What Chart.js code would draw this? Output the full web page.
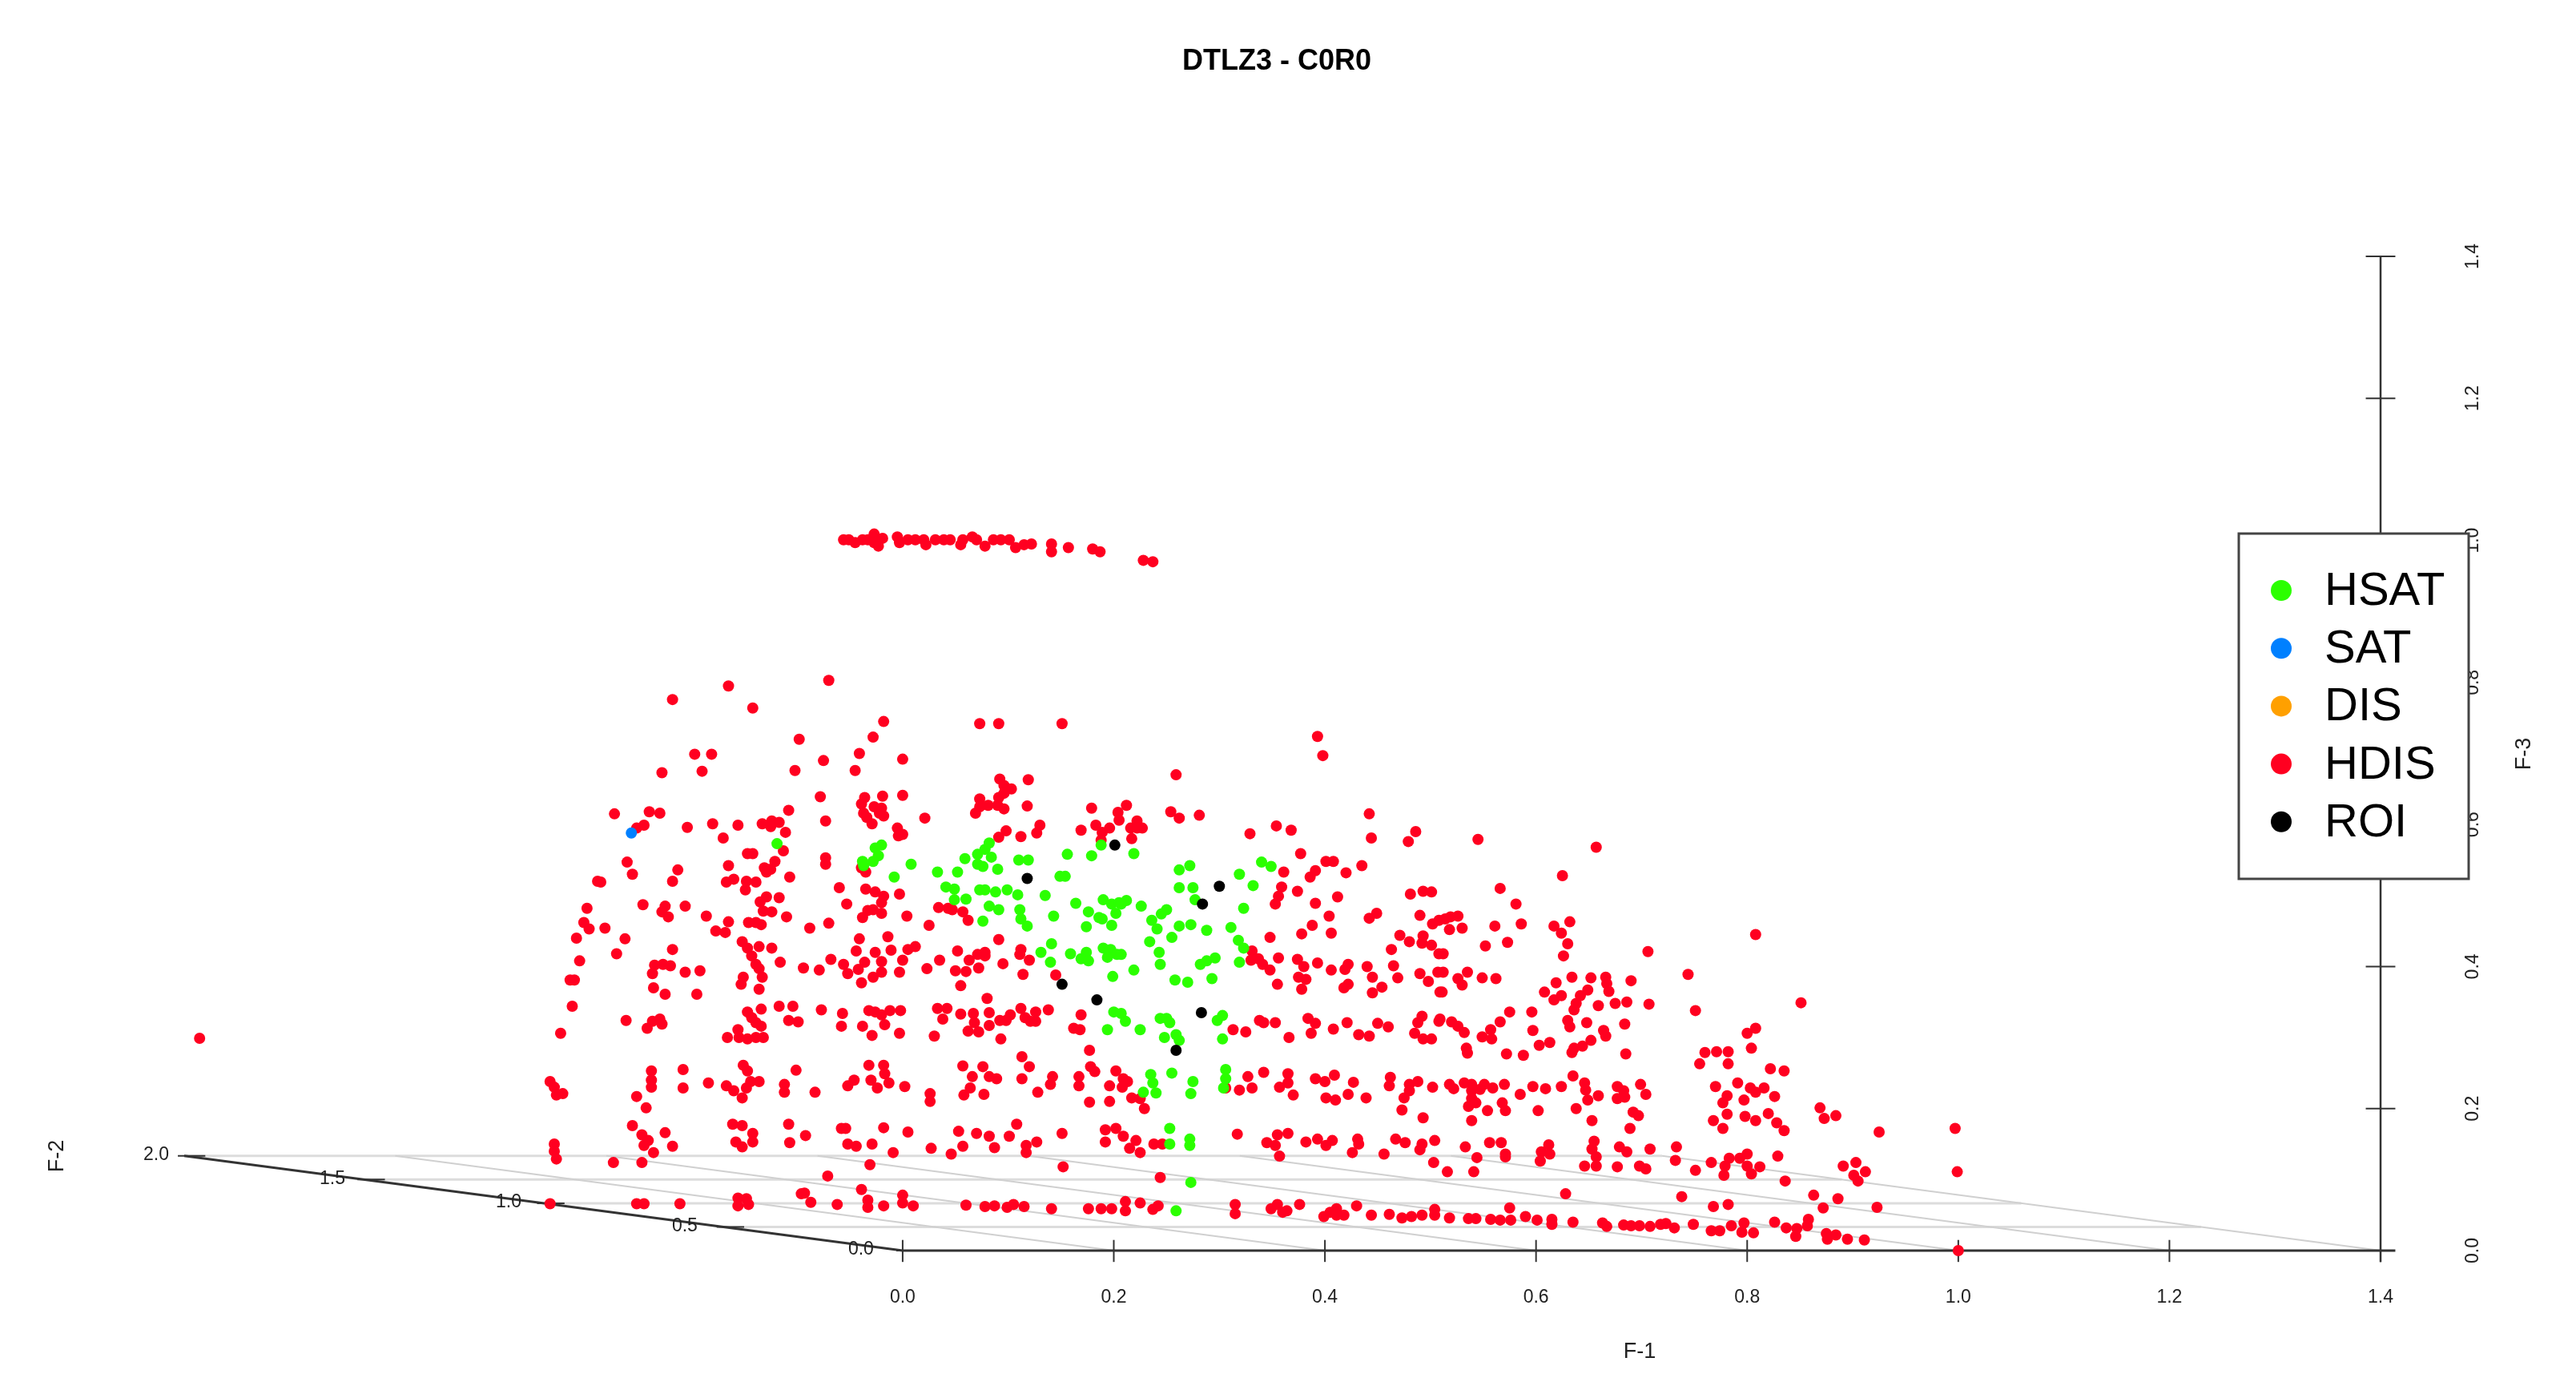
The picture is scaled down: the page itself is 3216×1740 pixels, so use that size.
<!DOCTYPE html>
<html>
<head>
<meta charset="utf-8">
<title>DTLZ3 - C0R0</title>
<script src="https://cdn.jsdelivr.net/npm/chart.js@4"></script>
<style>
  html, body { margin: 0; padding: 0; background: #fff; }
  canvas { display: block; }
</style>
</head>
<body>
<canvas id="chart" width="3216" height="1740"></canvas>
<script>
// points are [horizontal, vertical] on the projected plane, in F-1 / F-3 axis units
var f1Ticks = [0, 0.2, 0.4, 0.6, 0.8, 1.0, 1.2, 1.4];
var f2Ticks = [0, 0.5, 1.0, 1.5, 2.0];
var f3Ticks = [0, 0.2, 0.4, 0.6, 0.8, 1.0, 1.2, 1.4];
var legendNames = ['HSAT', 'SAT', 'DIS', 'HDIS', 'ROI'];

var satPoints = [[-.257,.588]];
var disPoints = [];
var roiPoints = [[.118,.524],[.201,.571],[.151,.375],[.184,.353],[.300,.513],[.284,.488],[.283,.335],[.259,.282]];

var hsatPoints = [
[-.119,.573],[-.020,.571],[-.026,.567],[-.023,.556],[-.028,.548],[-.037,.542],[-.038,.548],[.008,.544],[-.008,.526],[.033,.533],
[.052,.533],[.059,.552],[.071,.558],[.078,.565],[.082,.574],[.071,.544],[.076,.541],[.084,.554],[.090,.537],[.110,.550],
[.119,.550],[.156,.558],[.179,.556],[.188,.571],[.149,.527],[.154,.527],[.041,.512],[.049,.509],[.049,.494],[.060,.495],
[.073,.508],[.078,.508],[.088,.505],[.099,.508],[.109,.501],[.082,.485],[.091,.480],[.111,.480],[.112,.467],[.118,.457],
[.076,.464],[.135,.500],[.143,.471],[.164,.489],[.190,.494],[.198,.488],[.205,.490],[.202,.475],[.176,.477],[.189,.467],
[.198,.458],[.174,.456],[.186,.469],[.141,.432],[.131,.420],[.140,.406],[.159,.418],[.169,.411],[.174,.420],[.176,.408],
[.190,.426],[.197,.424],[.194,.413],[.203,.417],[.199,.386],[.200,.336],[.194,.311],[.219,.559],[.272,.542],[.262,.536],
[.319,.530],[.340,.547],[.349,.541],[.262,.511],[.275,.511],[.332,.514],[.277,.494],[.212,.493],[.207,.488],[.226,.485],
[.250,.480],[.245,.474],[.236,.465],[.241,.453],[.262,.457],[.273,.459],[.311,.455],[.323,.482],[.288,.451],[.255,.441],
[.234,.435],[.318,.437],[.323,.426],[.243,.420],[.244,.403],[.219,.395],[.207,.417],[.282,.403],[.288,.408],[.296,.412],
[.319,.406],[.258,.381],[.270,.378],[.293,.383],[.244,.327],[.250,.327],[.253,.321],[.211,.323],[.207,.334],[.225,.311],
[.248,.300],[.259,.304],[.262,.296],[.303,.298],[.303,.331],[.298,.324],[.235,.248],[.237,.236],[.240,.222],[.228,.223],
[.255,.250],[.275,.238],[.273,.221],[.306,.255],[.306,.242],[.304,.229],[.253,.172],[.253,.150],[.272,.157],[.272,.148],
[.273,.096],[.259,.056]
];

var hdisPoints = [
[-.273,.615],[-.240,.618],[-.230,.616],[-.108,.620],[-.073,.605],[-.252,.595],[-.245,.599],[-.204,.596],[-.180,.601],[-.156,.599],
[-.133,.601],[-.124,.605],[-.117,.603],[-.125,.597],[-.111,.589],[-.170,.581],[-.113,.563],[-.147,.559],[-.142,.559],[-.073,.553],
[-.073,.544],[-.261,.547],[-.213,.536],[-.165,.542],[-.121,.548],[-.131,.539],[-.125,.537],[-.129,.533],[-.256,.530],[-.107,.526],
[-.289,.520],[-.286,.519],[-.218,.520],[-.167,.519],[-.160,.523],[-.148,.520],[-.139,.519],[-.149,.508],[-.060,.511],[-.053,.488],
[-.129,.498],[-.117,.497],[-.135,.491],[-.246,.487],[-.225,.485],[-.206,.485],[-.299,.482],[-.132,.478],[-.124,.477],[-.228,.477],
[-.222,.470],[-.186,.471],[-.110,.470],[-.165,.463],[-.146,.462],[-.139,.462],[-.134,.459],[-.302,.462],[-.297,.453],[-.282,.454],
[-.070,.461],[-.088,.454],[-.177,.450],[-.168,.448],[-.309,.440],[-.263,.439],[-.152,.435],[-.147,.426],[-.136,.428],[-.124,.426],
[-.218,.424],[-.143,.415],[-.271,.418],[-.306,.408],[-.068,.410],[-.116,.406],[-.139,.403],[-.094,.398],[-.079,.395],[-.056,.403],
[-.052,.390],[-.235,.402],[-.227,.403],[-.220,.401],[-.136,.397],[-.237,.390],[-.206,.392],[-.192,.394],[-.133,.385],[-.151,.385],
[-.153,.375],[-.315,.381],[-.311,.381],[-.236,.370],[-.136,.368],[-.225,.361],[-.195,.361],[-.313,.344],[-.134,.340],[-.117,.344],
[-.104,.344],[-.077,.339],[-.147,.336],[-.143,.328],[-.057,.334],[-.139,.321],[-.262,.324],[-.230,.326],[-.237,.323],[-.242,.313],
[-.228,.319],[-.108,.324],[-.099,.322],[-.058,.316],[-.134,.316],[-.324,.306],[-.156,.311],[-.166,.300],[-.155,.300],[-.139,.300],
[-.132,.300],[-.147,.298],[-.165,.795],[-.218,.776],[-.142,.764],[-.098,.720],[-.197,.699],[-.181,.699],[-.228,.673],[-.190,.675],
[-.102,.676],
[-.056,1.001],[-.051,1.001],[-.045,.997],[-.038,1.001],[-.033,1.001],[-.027,1.009],[-.027,.997],[-.023,.992],[-.019,1.003],[-.005,1.005],
[-.003,.997],[.005,1.001],[.012,1.001],[.020,1.001],[.022,.994],[.031,1.001],[.039,1.001],[.045,1.001],[.055,.994],[.057,1.001],
[.066,1.005],[.070,1.001],[.078,.992],[.086,1.001],[.093,1.001],[.101,1.001],[.107,.990],[.115,.994],[.122,.995],[.141,.995],
[.141,.984],[.157,.990],[.180,.988],[.187,.984],[.228,.972],[.237,.970],
[-.070,.803],[-.018,.745],[.073,.742],[.091,.742],[.151,.742],[-.028,.723],[.393,.724],[-.041,.700],[0,.692],[-.075,.690],
[.398,.697],[-.045,.676],[.259,.670],[.092,.664],[.119,.663],[.096,.655],[.103,.650],[-.078,.639],[0,.641],[-.019,.640],
[-.036,.638],[.096,.644],[.073,.636],[.091,.638],
[-.039,.629],[-.037,.616],[-.034,.610],[-.029,.601],[-.027,.625],[-.020,.623],[-.018,.612],[-.022,.616],[.021,.609],[.069,.616],
[.073,.625],[.081,.627],[.090,.627],[.096,.622],[.118,.626],[.179,.623],[.204,.617],[.205,.606],[-.005,.595],[0,.586],
[-.004,.584],[.130,.599],[.127,.588],[.169,.592],[.183,.599],[.196,.595],[.189,.589],[.188,.578],[.098,.591],[.091,.582],
[.112,.583],[-.039,.539],[-.035,.533],[-.035,.509],[-.026,.505],[-.018,.499],[-.020,.490],[-.003,.502],[-.033,.479],[-.038,.469],
[-.020,.475],[-.028,.480],[.004,.471],[.025,.458],[.034,.483],[.043,.482],[.047,.480],[.057,.477],[.062,.465],[-.041,.439],
[-.014,.442],[.091,.438],[-.044,.422],[-.026,.420],[-.011,.423],[.005,.424],[.012,.428],[-.020,.407],[-.036,.406],[0,.409],
[-.042,.396],[-.020,.392],[-.003,.392],[-.028,.385],[-.039,.377],[.035,.409],[.023,.397],[.052,.422],[.063,.409],[.071,.417],
[.078,.420],[.078,.415],[.050,.394],[.060,.393],[.072,.398],[.095,.404],[.112,.424],[.111,.417],[.120,.409],[.114,.389],
[.145,.388],[.055,.373],[.080,.355],[-.032,.338],[-.026,.336],[-.020,.332],[-.012,.338],[-.002,.338],[.033,.341],[.042,.341],
[.038,.326],[.055,.333],[.067,.334],[.082,.335],[.112,.341],[.102,.332],[.092,.324],[.098,.324],[.116,.328],[.126,.336],
[.138,.339],[.121,.323],[.126,.323],[.068,.321],[.169,.332],[-.038,.316],[-.017,.318],[-.029,.303],[-.003,.306],[.030,.302],
[.062,.309],[.072,.308],[.082,.317],[.162,.313],[.168,.311],[.093,.298],
[.212,.627],[.254,.618],[.262,.609],[.281,.613],[.442,.615],[.222,.605],[.216,.595],[.227,.595],[.222,.595],[.217,.580],
[.354,.598],[.368,.592],[.329,.587],[.444,.581],[.486,.590],[.479,.576],[.377,.559],[.401,.548],[.408,.548],[.435,.542],
[.391,.535],[.386,.526],[.361,.533],[.420,.532],[.359,.512],[.356,.499],[.353,.488],[.374,.506],[.412,.498],[.391,.489],
[.481,.502],[.493,.506],[.501,.505],[.404,.471],[.449,.475],[.442,.468],[.490,.472],[.388,.458],[.378,.446],[.406,.447],
[.508,.465],[.502,.460],[.348,.441],[.471,.444],[.480,.435],[.493,.443],[.501,.430],[.492,.433],[.463,.424],[.331,.422],
[.337,.411],[.330,.409],[.341,.403],[.348,.395],[.356,.412],[.374,.410],[.380,.400],[.393,.405],[.406,.395],[.422,.403],
[.419,.396],[.440,.400],[.465,.401],[.508,.418],[.490,.390],[.507,.392],[.498,.379],[.375,.385],[.382,.382],[.445,.385],
[.469,.384],[.355,.375],[.378,.368],[.422,.375],[.418,.370],[.454,.371],[.445,.363],[.509,.364],[.338,.324],[.342,.321],
[.353,.321],[.313,.311],[.325,.308],[.366,.300],[.384,.327],[.391,.320],[.387,.306],[.408,.312],[.421,.321],[.450,.320],
[.460,.315],[.432,.304],[.442,.302],[.492,.330],[.488,.321],[.508,.323],[.485,.306],[.493,.298],[.501,.298],
[.177,.282],[.113,.273],[.120,.259],[.057,.260],[.076,.259],[-.032,.261],[-.018,.261],[.178,.259],[.182,.252],[.202,.253],
[-.017,.249],[.066,.245],[.082,.245],[.089,.242],[.209,.242],[.213,.238],[.142,.245],[.167,.245],[.167,.232],[.140,.234],
[-.013,.236],[-.046,.240],[-.052,.232],[-.030,.240],[-.024,.229],[.002,.231],[.113,.242],[.196,.232],[.208,.230],[.064,.229],
[-.083,.223],[.128,.223],[.058,.219],[.077,.220],[.026,.221],[.026,.210],[.217,.215],[.177,.209],[.196,.210],[.229,.200],
[.225,.214],[.306,.229],[.319,.226],[.331,.229],[.327,.245],[.342,.251],[.365,.249],[.365,.236],[.357,.230],[.370,.219],
[.391,.242],[.400,.238],[.409,.247],[.427,.237],[.401,.215],[.410,.212],[.422,.220],[.439,.215],[.462,.244],[.461,.232],
[.480,.234],[.488,.238],[.480,.225],[.475,.215],[.502,.230],[.473,.198],[.493,.187],
[-.058,.172],[-.054,.172],[.108,.178],[-.018,.173],[.005,.167],[-.092,.162],[.053,.168],[.070,.165],[.082,.161],[.101,.161],
[.151,.165],[.192,.170],[.202,.172],[.209,.161],[.192,.153],[.221,.155],[.215,.144],[.225,.138],[-.052,.150],[-.044,.147],
[-.029,.150],[.127,.153],[.117,.148],[.117,.138],[.087,.145],[.057,.147],[.027,.144],[.046,.136],[-.009,.138],[.238,.150],
[.246,.150],[.317,.164],[.355,.163],[.365,.165],[.345,.152],[.353,.148],[.357,.133],[.382,.153],[.393,.157],[.407,.155],
[.401,.148],[.431,.157],[.432,.150],[.426,.138],[.456,.136],[.467,.157],[.476,.152],[.492,.150],[.504,.155],[.490,.142],
[.503,.124],
[-.031,.121],[.152,.118],[-.071,.105],[.244,.103],[-.039,.086],[-.093,.081],[0,.078],[-.087,.068],[-.062,.065],[-.033,.071],
[-.033,.061],[-.018,.063],[0,.067],[.010,.063],[.060,.064],[.078,.062],[.087,.063],[.099,.061],[.105,.065],[.115,.062],
[.141,.059],[.176,.059],[.188,.059],[.198,.059],[.211,.069],[.211,.056],[.225,.067],[.237,.058],[.242,.063],[.315,.065],
[.315,.052],[.349,.059],[.355,.065],[.364,.056],[.376,.065],[.405,.054],[.411,.059],[.418,.050],[.430,.063],[.444,.050],
[.461,.051],[.473,.046],[.482,.048],[.492,.050],[.504,.058],[.504,.050],[.399,.048],[.411,.050],[.360,.054],
[-.666,.299],[-.151,.261],[-.147,.253],[-.208,.255],[-.238,.253],[-.238,.240],[-.238,.230],[-.101,.254],[-.334,.238],[-.330,.230],
[-.328,.219],[-.322,.221],[-.144,.238],[-.136,.238],[-.148,.229],[-.167,.232],[-.160,.225],[-.152,.215],[-.208,.229],[-.184,.236],
[-.112,.234],[-.112,.223],[-.252,.217],[-.243,.201],[-.256,.176],[-.247,.163],[-.241,.155],[-.245,.148],[-.225,.166],[-.218,.147],
[-.236,.138],[-.330,.150],[-.330,.140],[-.328,.129],[-.274,.124],[-.247,.124],[-.161,.178],[-.152,.176],[-.142,.165],[-.142,.153],
[-.152,.146],[-.158,.153],[-.108,.178],[-.107,.152],[-.334,.066],[-.252,.066],[-.245,.066],[-.211,.066],[-.156,.074],[-.148,.073],
[-.156,.063],[-.146,.065],[-.096,.080],
[.545,.579],[.657,.568],[.625,.528],[.566,.510],[.581,.488],[.526,.471],[.514,.467],[.519,.470],[.561,.457],[.586,.460],
[.530,.454],[.518,.452],[.617,.457],[.632,.463],[.624,.447],[.808,.445],[.573,.434],[.552,.429],[.630,.432],[.626,.415],
[.706,.421],[.512,.418],[.535,.392],[.512,.392],[.526,.383],[.530,.374],[.549,.384],[.562,.383],[.511,.364],[.744,.389],
[.634,.385],[.652,.384],[.666,.385],[.667,.376],[.619,.377],[.690,.380],[.608,.364],[.649,.367],[.669,.365],[.617,.353],
[.624,.359],[.642,.359],[.638,.348],[.636,.339],[.659,.345],[.686,.350],[.675,.348],[.707,.347],[.751,.338],[.851,.349],
[.575,.336],[.596,.336],[.509,.326],[.520,.322],[.526,.316],[.532,.307],[.566,.322],[.557,.311],[.549,.301],[.558,.298],
[.630,.324],[.632,.315],[.648,.321],[.684,.319],[.664,.310],[.666,.302],[.597,.310],[.808,.313],[.800,.306],[.804,.285],
[.534,.285],[.535,.278],[.572,.277],[.588,.275],[.603,.289],[.613,.293],[.652,.296],[.644,.288],[.636,.285],[.634,.279],
[.685,.277],[.760,.279],[.771,.280],[.782,.280],[.755,.263],[.782,.263],[.822,.256],[.835,.253],[.635,.246],[.646,.236],
[.647,.226],[.624,.231],[.597,.231],[.609,.228],[.585,.220],[.570,.234],[.559,.229],[.551,.234],[.539,.234],[.532,.236],
[.539,.225],[.547,.227],[.539,.214],[.518,.234],[.522,.228],[.677,.231],[.683,.225],[.677,.214],[.684,.216],[.699,.234],
[.704,.220],[.659,.218],[.649,.212],[.638,.200],[.770,.231],[.791,.236],[.803,.229],[.808,.223],[.816,.229],[.781,.218],
[.777,.208],[.797,.212],[.826,.217],[.869,.201],[.873,.186],[.884,.190],[.536,.203],[.543,.208],[.554,.197],[.568,.208],
[.571,.197],[.539,.183],[.602,.197],[.653,.183],[.692,.195],[.697,.190],[.689,.172],[.768,.183],[.777,.172],[.781,.192],
[.798,.189],[.808,.183],[.820,.193],[.828,.180],[.835,.169],[.925,.167],[.997,.172],[.556,.152],[.567,.152],[.533,.146],
[.544,.131],[.571,.136],[.571,.132],[.605,.139],[.612,.149],[.613,.136],[.604,.126],[.655,.154],[.653,.143],[.657,.132],
[.646,.119],[.657,.119],[.679,.146],[.686,.139],[.708,.143],[.733,.146],[.732,.127],[.677,.118],[.698,.119],[.704,.115],
[.516,.111],[.541,.111],[.766,.124],[.751,.113],[.783,.130],[.793,.130],[.800,.136],[.779,.119],[.778,.106],[.800,.119],
[.804,.108],[.812,.118],[.829,.133],[.836,.098],[.891,.119],[.903,.124],[.912,.111],[.901,.106],[.905,.098],[.999,.111],
[.628,.080],[.738,.076],[.768,.062],[.782,.065],[.863,.078],[.886,.073],[.872,.060],[.923,.061],[.575,.060],[.590,.048],
[.518,.046],[.536,.045],[.543,.045],[.557,.044],[.566,.043],[.576,.043],[.601,.043],[.615,.044],[.615,.037],[.635,.040],
[.663,.039],[.667,.034],[.683,.036],[.690,.035],[.698,.035],[.708,.034],[.718,.037],[.723,.038],[.731,.032],[.749,.037],
[.766,.028],[.774,.028],[.785,.035],[.797,.039],[.795,.026],[.806,.025],[.826,.040],[.837,.032],[.846,.020],[.847,.031],
[.858,.044],[.857,.035],[.875,.024],[.876,.016],[.884,.022],[.895,.016],[.911,.015],[1.000,0]
];

var colors = { HSAT: '#2bff00', SAT: '#0080ff', DIS: '#ffa000', HDIS: '#ff0020', ROI: '#000000' };

// how far one unit of F-2 moves a point on the projected plane
var f2SkewX = -0.3403;
var f2SkewY = 0.0667;

function toXY(points) {
    return points.map(function (p) { return { x: p[0], y: p[1] }; });
}

function pointSet(name, points, order) {
    return {
        label: name,
        data: toXY(points),
        backgroundColor: colors[name],
        borderWidth: 0,
        pointRadius: 7,
        pointHoverRadius: 7,
        clip: false,
        order: order
    };
}

function segment(ctx, scales, x1, y1, x2, y2) {
    ctx.beginPath();
    ctx.moveTo(scales.x.getPixelForValue(x1), scales.y.getPixelForValue(y1));
    ctx.lineTo(scales.x.getPixelForValue(x2), scales.y.getPixelForValue(y2));
    ctx.stroke();
}

// the floor grid and the three axes, behind the points
var boxPlugin = {
    id: 'box',
    beforeDatasetsDraw: function (chart) {
        var ctx = chart.ctx, s = chart.scales;
        ctx.save();
        ctx.strokeStyle = '#dcdcdc';
        ctx.lineWidth = 3;
        f2Ticks.slice(1).forEach(function (v) {
            segment(ctx, s, v * f2SkewX, v * f2SkewY, 1.4 + v * f2SkewX, v * f2SkewY);
        });
        ctx.strokeStyle = '#d0d0d0';
        ctx.lineWidth = 2;
        f1Ticks.slice(1).forEach(function (v) {
            segment(ctx, s, v, 0, v + 2 * f2SkewX, 2 * f2SkewY);
        });

        ctx.strokeStyle = '#333';
        ctx.lineWidth = 3;
        segment(ctx, s, 0, 0, 1.414, 0);
        segment(ctx, s, 0, 0, 2 * f2SkewX, 2 * f2SkewY);
        ctx.lineWidth = 2.5;
        segment(ctx, s, 1.4, -0.016, 1.4, 1.4);

        ctx.lineWidth = 2;
        f1Ticks.forEach(function (v) { segment(ctx, s, v, 0.015, v, -0.016); });
        f3Ticks.slice(1).forEach(function (v) { segment(ctx, s, 1.386, v, 1.414, v); });

        ctx.fillStyle = '#222';
        ctx.font = '23px "Liberation Sans"';
        ctx.textAlign = 'center';
        ctx.textBaseline = 'middle';
        f2Ticks.forEach(function (v) {
            var ax = v * f2SkewX, ay = v * f2SkewY;
            segment(ctx, s, ax - 0.006, ay, ax + 0.02, ay);
            ctx.fillText(v.toFixed(1), s.x.getPixelForValue(ax) - 52 + 8.5 * v, s.y.getPixelForValue(ay) - 1);
        });
        ctx.restore();
    }
};

// axis names and the legend box, legend goes over the F-3 labels like the original
var notesPlugin = {
    id: 'notes',
    afterDraw: function (chart) {
        var ctx = chart.ctx;
        ctx.save();
        ctx.fillStyle = '#222';
        ctx.textAlign = 'center';
        ctx.textBaseline = 'middle';
        ctx.font = '27px "Liberation Sans"';
        ctx.fillText('F-1', 2047, 1688);
        rotated(ctx, 'F-2', 72, 1443);
        rotated(ctx, 'F-3', 3152, 941);

        ctx.fillStyle = '#fff';
        ctx.strokeStyle = '#444';
        ctx.lineWidth = 3;
        ctx.fillRect(2795, 666, 287, 431);
        ctx.strokeRect(2795, 666, 287, 431);

        ctx.textAlign = 'left';
        ctx.font = '58px "Liberation Sans"';
        legendNames.forEach(function (name, i) {
            var y = 737 + i * 72.2;
            ctx.fillStyle = colors[name];
            ctx.beginPath();
            ctx.arc(2848, y, 13, 0, Math.PI * 2);
            ctx.fill();
            ctx.fillStyle = '#000';
            ctx.fillText(name, 2902, y + 2);
        });
        ctx.restore();
    }
};

function rotated(ctx, text, x, y) {
    ctx.save();
    ctx.translate(x, y);
    ctx.rotate(-Math.PI / 2);
    ctx.fillText(text, 0, 0);
    ctx.restore();
}

var canvas = document.getElementById('chart');
var chart = new Chart(canvas.getContext('2d'), {
    type: 'scatter',
    data: {
        datasets: [
            pointSet('HSAT', hsatPoints, 2),
            pointSet('SAT', satPoints, 3),
            pointSet('DIS', disPoints, 4),
            pointSet('HDIS', hdisPoints, 5),
            pointSet('ROI', roiPoints, 1)
        ]
    },
    options: {
        responsive: false,
        animation: false,
        devicePixelRatio: 1,
        layout: { autoPadding: false, padding: { left: 0, right: 28, top: 0, bottom: 0 } },
        plugins: {
            legend: { display: false },
            tooltip: { enabled: false },
            title: {
                display: true,
                text: 'DTLZ3 - C0R0',
                color: '#000',
                font: { family: '"Liberation Sans"', size: 36, weight: 'bold', lineHeight: 1.2 },
                padding: { top: 55.4, bottom: 221.4 }
            }
        },
        scales: {
            x: {
                type: 'linear',
                position: 'bottom',
                min: -0.85508,
                max: 1.4,
                grid: { display: false, drawTicks: false },
                border: { display: false },
                afterBuildTicks: function (scale) {
                    scale.ticks = f1Ticks.map(function (v) { return { value: v }; });
                },
                afterFit: function (scale) { scale.height = 179; },
                ticks: {
                    autoSkip: false,
                    maxRotation: 0,
                    padding: 45,
                    color: '#222',
                    font: { family: '"Liberation Sans"', size: 23 },
                    callback: function (v) { return v.toFixed(1); }
                }
            },
            y: {
                type: 'linear',
                position: 'right',
                min: 0,
                max: 1.4,
                grid: { display: false, drawTicks: false },
                border: { display: false },
                afterBuildTicks: function (scale) {
                    scale.ticks = f3Ticks.map(function (v) { return { value: v }; });
                },
                afterFit: function (scale) { scale.width = 216; },
                ticks: {
                    autoSkip: false,
                    minRotation: 90,
                    maxRotation: 90,
                    crossAlign: 'center',
                    padding: 100,
                    color: '#222',
                    font: { family: '"Liberation Sans"', size: 23 },
                    callback: function (v) { return v.toFixed(1); }
                }
            }
        }
    },
    plugins: [boxPlugin, notesPlugin]
});
</script>
</body>
</html>
